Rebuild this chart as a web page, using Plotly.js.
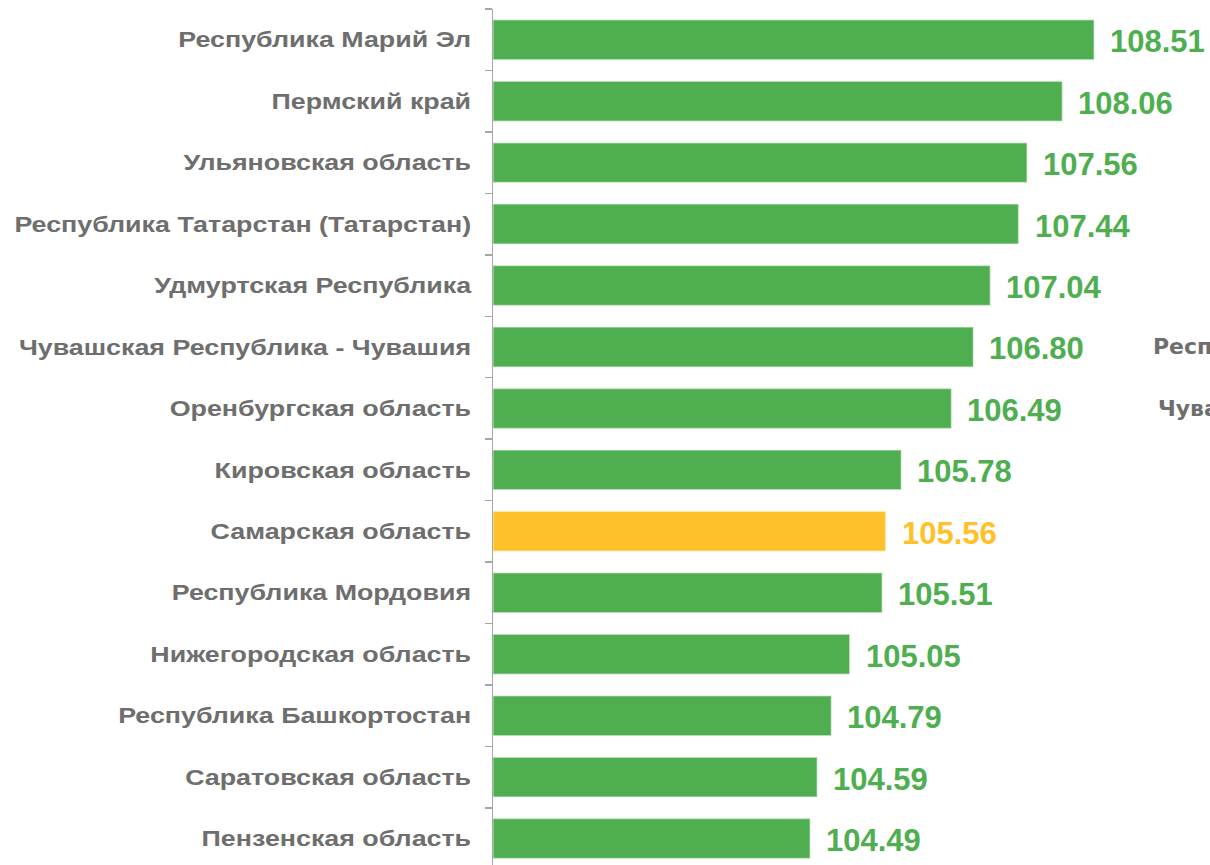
<!DOCTYPE html>
<html><head><meta charset="utf-8">
<script src="https://cdn.plot.ly/plotly-3.0.1.min.js"></script>
<style>body{margin:0;padding:0;background:#fff}#chart{width:1210px;height:865px}</style>
</head><body><div id="chart"></div>
<script>
const regions = ["Республика Марий Эл","Пермский край","Ульяновская область","Республика Татарстан (Татарстан)","Удмуртская Республика","Чувашская Республика - Чувашия","Оренбургская область","Кировская область","Самарская область","Республика Мордовия","Нижегородская область","Республика Башкортостан","Саратовская область","Пензенская область"];
const values = [108.51,108.06,107.56,107.44,107.04,106.80,106.49,105.78,105.56,105.51,105.05,104.79,104.59,104.49];
const highlight = "Самарская область";
const sideLabels = ["Респ","Чува"];

const GREEN = "#4FAF50", YELLOW = "#FFC12B";
const colors = regions.map(r => r === highlight ? YELLOW : GREEN);
const ARIAL = "Liberation Sans, Arial, sans-serif";
const LABEL_STRETCH = 1.22;

const trace = {
  type: "bar", orientation: "h",
  x: values.map(v => v - 100), y: regions, base: 100,
  width: 0.65,
  marker: {color: colors, line: {color: "rgba(255,255,255,0.45)", width: 1.5}},
  hoverinfo: "x+y"
};

const annotations = values.map((v, i) => ({
  x: v, y: regions[i], xref: "x", yref: "y",
  text: v.toFixed(2), showarrow: false, xanchor: "left", yanchor: "middle",
  xshift: 14, yshift: -2,
  font: {family: ARIAL, size: 31, color: colors[i], weight: "bold"}
}));
const sidePos = [[5, -2], [6, 3]];
sidePos.forEach(([idx, dx], k) => {
  annotations.push({
    x: 0.92 + dx/717, xref: "paper", y: regions[idx], yref: "y",
    text: "<b>" + sideLabels[k] + "</b>", showarrow: false, xanchor: "left", yanchor: "middle",
    font: {family: "DejaVu Sans, sans-serif", size: 22, color: "#6E6E6E"}
  });
});

const layout = {
  width: 1210, height: 865,
  margin: {l: 493, r: 0, t: 9, b: 0},
  paper_bgcolor: "#fff", plot_bgcolor: "#fff",
  showlegend: false,
  xaxis: {range: [100, 110.15], visible: false, fixedrange: true},
  yaxis: {
    type: "category", range: [13.43, -0.5],
    showline: true, linecolor: "#A6A6A6", linewidth: 1.5,
    ticks: "outside", ticklen: 7, tickcolor: "#A6A6A6", tickwidth: 1.5,
    tickson: "boundaries", showgrid: false, zeroline: false,
    ticklabelstandoff: 16,
    tickfont: {family: ARIAL, size: 22, color: "#6E6E6E", weight: "bold"}
  },
  annotations: annotations
};
Plotly.newPlot("chart", [trace], layout, {staticPlot: true, displayModeBar: false}).then(gd => {
  gd.querySelectorAll(".ytick text").forEach(t => {
    const x = parseFloat(t.getAttribute("x")) || 0;
    const y = parseFloat(t.getAttribute("y")) || 0;
    const base = t.getAttribute("transform") || "";
    t.setAttribute("transform", base + ` translate(${x},${y}) scale(${LABEL_STRETCH},1) translate(${-x},${-y})`);
  });
});
</script></body></html>
